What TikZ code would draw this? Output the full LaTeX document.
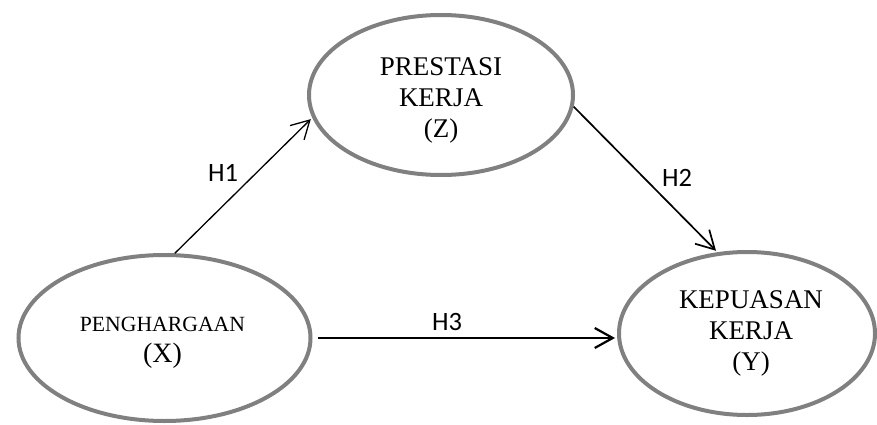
\documentclass[tikz,border=0pt]{standalone}
\usepackage{fontspec}
\setmainfont{Liberation Serif}
\newfontfamily\labelfont{Carlito}
\usetikzlibrary{shapes.geometric,arrows.meta}
\definecolor{ringgray}{RGB}{128,128,128}
\begin{document}
\begin{tikzpicture}[x=1pt,y=-1pt,
  construct/.style={ellipse, draw=ringgray, line width=4pt, inner sep=0pt},
  ctext/.style={align=center, inner sep=0pt, font=\fontsize{27}{31}\selectfont},
  hyp/.style={-{Straight Barb[length=18pt,width=20pt]}, black, shorten >=2pt},
  hlabel/.style={font=\labelfont\fontsize{26.5}{30}\selectfont, inner sep=0pt}
]
\useasboundingbox (0,0) rectangle (877,425);

% constructs
\node[construct, minimum width=292pt, minimum height=166pt] (X) at (164.5,338) {};
\node[construct, minimum width=264pt, minimum height=160pt] (Z) at (441,95) {};
\node[construct, minimum width=256pt, minimum height=163pt] (Y) at (747,333.5) {};

\node[ctext] (Xtext) at ([xshift=-2pt,yshift=-5pt]X.center)
  {{\fontsize{21.7}{32}\selectfont PENGHARGAAN}\\{\fontsize{28}{32}\selectfont (X)}};
\node[ctext] (Ztext) at ([yshift=-5pt]Z.center) {PRESTASI\\KERJA\\(Z)};
\node[ctext] (Ytext) at ([xshift=4pt]Y.center) {KEPUASAN\\KERJA\\(Y)};

% hypotheses
\draw[hyp, line width=1.3pt] (X.83) -- (Z.190);
\draw[hyp, line width=1.7pt] (Z.355) -- (Y.110);
\draw[hyp, line width=2.2pt, shorten <=5pt] (X.east) -- (X.east -| Y.west);

\node[hlabel] (h1) at (223,173) {H1};
\node[hlabel] (h2) at (677,178) {H2};
\node[hlabel] (h3) at (447,322) {H3};
\end{tikzpicture}
\end{document}
